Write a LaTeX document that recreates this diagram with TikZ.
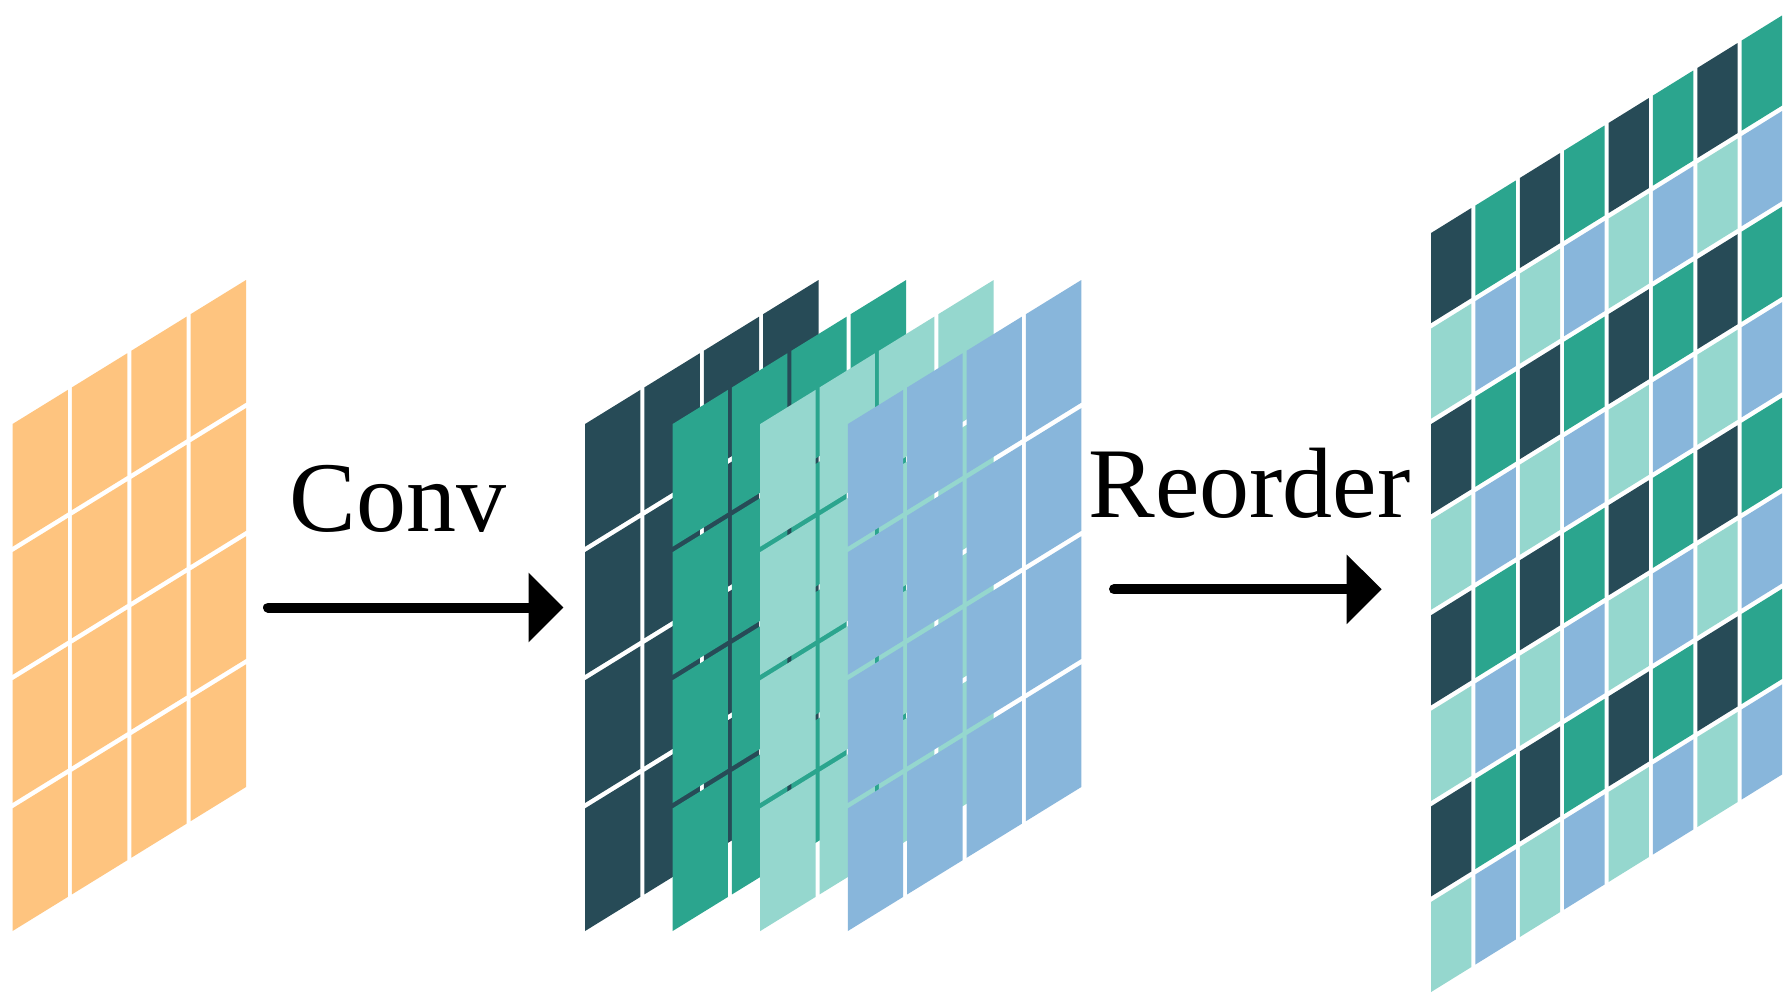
\documentclass[tikz,border=0pt]{standalone}
\usepackage{fontspec}
\setmainfont{Liberation Serif}
\usetikzlibrary{arrows.meta}
\definecolor{cOrange}{RGB}{254,196,127}
\definecolor{cDark}{RGB}{39,75,87}
\definecolor{cTeal}{RGB}{43,165,142}
\definecolor{cMint}{RGB}{149,215,206}
\definecolor{cBlue}{RGB}{136,182,219}
\newcommand{\qcell}[3]{\fill[#3] ({#1+\gx},{#2+\gy}) -- ({#1+1-\gx},{#2+\gy}) -- ({#1+1-\gx},{#2+1-\gy}) -- ({#1+\gx},{#2+1-\gy}) -- cycle;}
\newcommand{\layerfour}[3]{%
  \begin{scope}[shift={(#1,#2)}, x={(23.75pt,14.648pt)}, y={(0pt,-51.25pt)}]
    \def\gx{0.0337}\def\gy{0.0215}
    \foreach \c in {0,...,3}{\foreach \r in {0,...,3}{\qcell{\c}{\r}{#3}}}
  \end{scope}}
\tikzset{
  lbl/.style={inner sep=0pt, font=\fontsize{40}{48}\selectfont, text=black},
  flowarrow/.style={line width=4pt, line cap=round, -{Triangle[length=14pt,width=27pt]}}
}
\begin{document}
\begin{tikzpicture}[x=0.4pt, y=-0.4pt]
  \fill[white] (0,0) rectangle (1792,1003);
  \useasboundingbox (0,0) rectangle (1792,1003);
  % input feature map
  \layerfour{10.5}{422.5}{cOrange}
  % conv output channels (back to front)
  \layerfour{583}{422.5}{cDark}
  \layerfour{670.6}{422.5}{cTeal}
  \layerfour{758.2}{422.5}{cMint}
  \layerfour{845.8}{422.5}{cBlue}
  % reordered map
  \begin{scope}[shift={(1429,231.5)}, x={(17.75pt,11pt)}, y={(0pt,-38.225pt)}]
    \def\gx{0.0451}\def\gy{0.0288}
    \foreach \r in {0,...,7}{\foreach \c in {0,...,7}{
      \pgfmathtruncatemacro{\k}{2*mod(\r,2)+mod(\c,2)}
      \ifcase\k \def\cc{cDark}\or\def\cc{cTeal}\or\def\cc{cMint}\or\def\cc{cBlue}\fi
      \qcell{\c}{\r}{\cc}}}
  \end{scope}
  % labels
  \node[lbl, anchor=base west] (conv) at (289,531.7) {Conv};
  \node[lbl, anchor=base west] (reorder) at (1088,517.3) {Reorder};
  % arrows
  \coordinate (a1s) at (268,607.5);
  \coordinate (a1e) at (563.5,607.5);
  \coordinate (a2s) at (1114,589.3);
  \coordinate (a2e) at (1381.7,589.3);
  \draw[flowarrow] (a1s) -- (a1e);
  \draw[flowarrow] (a2s) -- (a2e);
\end{tikzpicture}
\end{document}
